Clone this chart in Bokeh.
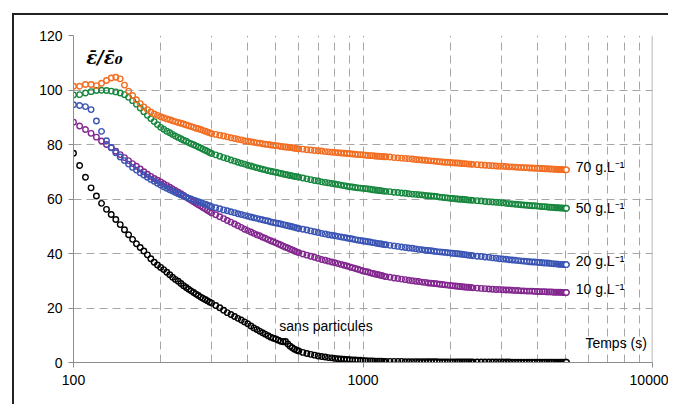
from bokeh.plotting import figure
from bokeh.layouts import column
from bokeh.models import FixedTicker, Label, Span, NumeralTickFormatter
from bokeh.embed import file_html
from bokeh.resources import INLINE

# sampling times (s)
times = (list(range(100, 301, 5)) + list(range(310, 601, 10)) + list(range(620, 1201, 20))
         + list(range(1240, 2401, 40)) + list(range(2480, 5041, 80)))

sans_particules = [
    76.8, 72.3, 68.0, 64.1, 61.1, 58.4, 56.2, 54.3, 52.5, 50.6,
    48.7, 46.9, 45.2, 43.6, 42.2, 40.9, 39.5, 38.1, 36.8, 35.8,
    34.9, 34.1, 33.1, 32.2, 31.3, 30.5, 29.8, 29.0, 28.2, 27.5,
    26.9, 26.3, 25.7, 25.1, 24.6, 24.0, 23.6, 23.1, 22.7, 22.2,
    21.8,
    20.9, 20.1, 19.2, 18.3, 17.6, 16.9, 16.2, 15.6, 14.9, 14.2,
    13.4, 12.7, 12.1, 11.5, 10.9, 10.4, 9.8, 9.3, 8.9, 8.6,
    8.2, 7.8, 7.6, 7.7, 6.8, 6.0, 5.4, 4.9, 4.5, 4.2,
    3.7, 3.3, 3.0, 2.7, 2.4, 2.2, 2.0, 1.8, 1.7, 1.5,
    1.4, 1.3, 1.2, 1.1, 1.0, 0.9, 0.9, 0.8, 0.8, 0.7,
    0.7, 0.6, 0.6, 0.6, 0.5, 0.5, 0.5, 0.5, 0.4, 0.4,
    0.4, 0.4, 0.4, 0.4, 0.3, 0.3, 0.3, 0.3, 0.3, 0.3,
    0.3, 0.3, 0.3, 0.3, 0.3, 0.2, 0.2, 0.2, 0.2, 0.2,
    0.2, 0.2, 0.2, 0.2, 0.2, 0.2, 0.2, 0.2, 0.2, 0.2,
    0.2, 0.2, 0.2, 0.2, 0.2, 0.2, 0.2, 0.2, 0.2, 0.2,
    0.1, 0.1, 0.1, 0.1, 0.1, 0.1, 0.1, 0.1, 0.1, 0.1,
    0.1, 0.1, 0.1, 0.1, 0.1, 0.1, 0.1, 0.1, 0.1, 0.1,
    0.1, 0.1, 0.1,
]

g10 = [
    88.2, 86.8, 85.5, 84.1, 82.7, 81.3, 80.0, 78.8, 77.5, 76.3,
    75.2, 74.1, 73.0, 72.0, 71.0, 70.0, 69.1, 68.3, 67.5, 66.9,
    66.3, 65.6, 65.0, 64.3, 63.7, 63.1, 62.5, 61.9, 61.3, 60.7,
    60.1, 59.5, 59.0, 58.4, 57.9, 57.4, 56.9, 56.4, 55.9, 55.4,
    54.9,
    54.2, 53.5, 52.8, 52.1, 51.5, 50.8, 50.2, 49.6, 48.9, 48.4,
    47.9, 47.4, 46.9, 46.5, 46.0, 45.6, 45.1, 44.7, 44.3, 43.9,
    43.5, 43.1, 42.7, 42.3, 42.0, 41.6, 41.3, 40.9, 40.6, 40.3,
    39.8, 39.4, 39.0, 38.6, 38.2, 37.8, 37.5, 37.2, 36.9, 36.6,
    36.3, 36.0, 35.7, 35.4, 35.1, 34.8, 34.5, 34.2, 33.9, 33.6,
    33.4, 33.2, 32.9, 32.7, 32.5, 32.3, 32.1, 31.9, 31.7, 31.5,
    31.3, 31.0, 30.8, 30.6, 30.4, 30.2, 30.0, 29.8, 29.7, 29.5,
    29.4, 29.2, 29.1, 29.0, 28.9, 28.7, 28.6, 28.5, 28.4, 28.3,
    28.2, 28.1, 28.0, 27.9, 27.8, 27.7, 27.6, 27.6, 27.5, 27.4,
    27.3, 27.2, 27.1, 27.0, 26.9, 26.8, 26.8, 26.7, 26.6, 26.6,
    26.5, 26.4, 26.4, 26.3, 26.3, 26.2, 26.2, 26.2, 26.1, 26.1,
    26.0, 26.0, 26.0, 25.9, 25.9, 25.9, 25.8, 25.8, 25.8, 25.8,
    25.7, 25.7, 25.7,
]

g20 = [
    94.6, 94.3, 93.9, 92.8, 88.6, 84.8, 81.4, 78.9, 77.0, 75.4,
    74.1, 72.8, 71.6, 70.6, 69.6, 68.8, 68.0, 67.2, 66.5, 65.8,
    65.1, 64.5, 63.9, 63.4, 62.9, 62.4, 61.9, 61.5, 61.1, 60.7,
    60.3, 60.0, 59.6, 59.3, 59.0, 58.7, 58.4, 58.1, 57.8, 57.5,
    57.2,
    56.8, 56.4, 56.0, 55.7, 55.3, 55.0, 54.6, 54.3, 54.0, 53.7,
    53.4, 53.1, 52.9, 52.6, 52.4, 52.1, 51.9, 51.6, 51.4, 51.2,
    51.0, 50.8, 50.6, 50.4, 50.2, 50.0, 49.8, 49.6, 49.4, 49.2,
    48.9, 48.6, 48.3, 48.0, 47.7, 47.4, 47.2, 46.9, 46.7, 46.5,
    46.3, 46.1, 45.9, 45.7, 45.5, 45.3, 45.1, 44.9, 44.8, 44.6,
    44.5, 44.3, 44.2, 44.0, 43.9, 43.7, 43.6, 43.5, 43.3, 43.2,
    43.0, 42.8, 42.6, 42.4, 42.2, 42.0, 41.9, 41.7, 41.5, 41.4,
    41.2, 41.1, 41.0, 40.8, 40.7, 40.6, 40.5, 40.4, 40.3, 40.2,
    40.1, 40.0, 39.9, 39.8, 39.7, 39.6, 39.5, 39.4, 39.3, 39.2,
    39.0, 38.9, 38.7, 38.6, 38.4, 38.3, 38.1, 38.0, 37.9, 37.7,
    37.6, 37.5, 37.4, 37.3, 37.2, 37.1, 37.0, 36.9, 36.9, 36.8,
    36.7, 36.6, 36.5, 36.5, 36.4, 36.3, 36.2, 36.2, 36.1, 36.0,
    36.0, 35.9, 35.9,
]

g50 = [
    98.2, 98.3, 98.9, 99.4, 99.8, 99.9, 99.8, 99.6, 99.3, 98.9,
    98.3, 97.3, 96.1, 94.8, 93.4, 92.0, 90.7, 89.5, 88.4, 87.3,
    86.3, 85.6, 84.9, 84.3, 83.7, 83.1, 82.6, 82.1, 81.6, 81.2,
    80.7, 80.3, 79.9, 79.5, 79.1, 78.7, 78.3, 77.9, 77.5, 77.1,
    76.7,
    76.2, 75.7, 75.2, 74.8, 74.3, 73.9, 73.5, 73.1, 72.8, 72.4,
    72.1, 71.8, 71.5, 71.2, 70.9, 70.7, 70.4, 70.2, 70.0, 69.8,
    69.6, 69.4, 69.2, 69.0, 68.8, 68.6, 68.5, 68.3, 68.2, 68.0,
    67.7, 67.4, 67.1, 66.8, 66.6, 66.3, 66.1, 65.9, 65.7, 65.5,
    65.3, 65.1, 64.9, 64.7, 64.5, 64.4, 64.2, 64.1, 64.0, 63.9,
    63.8, 63.7, 63.6, 63.4, 63.3, 63.2, 63.1, 63.0, 62.9, 62.8,
    62.7, 62.5, 62.4, 62.2, 62.1, 61.9, 61.8, 61.7, 61.6, 61.5,
    61.3, 61.2, 61.1, 61.0, 60.9, 60.7, 60.6, 60.5, 60.4, 60.3,
    60.2, 60.1, 60.0, 59.9, 59.9, 59.8, 59.7, 59.6, 59.6, 59.5,
    59.4, 59.3, 59.1, 59.0, 58.9, 58.8, 58.7, 58.6, 58.4, 58.3,
    58.2, 58.1, 58.0, 57.9, 57.8, 57.7, 57.6, 57.5, 57.5, 57.4,
    57.3, 57.2, 57.2, 57.1, 57.0, 57.0, 56.9, 56.8, 56.8, 56.7,
    56.7, 56.6, 56.6,
]

g70 = [
    101.4, 101.4, 102.0, 102.0, 101.6, 102.5, 103.5, 104.4, 104.7, 104.1,
    101.8, 99.6, 98.0, 96.4, 95.0, 93.8, 92.8, 91.9, 91.2, 90.7,
    90.2, 89.8, 89.4, 89.1, 88.7, 88.4, 88.1, 87.8, 87.5, 87.2,
    86.9, 86.6, 86.3, 86.0, 85.8, 85.5, 85.2, 84.9, 84.6, 84.3,
    84.0,
    83.7, 83.4, 83.1, 82.8, 82.5, 82.2, 81.9, 81.7, 81.4, 81.2,
    81.0, 80.8, 80.6, 80.5, 80.3, 80.1, 80.0, 79.8, 79.7, 79.6,
    79.5, 79.3, 79.2, 79.1, 79.0, 78.9, 78.8, 78.6, 78.5, 78.4,
    78.3, 78.1, 78.0, 77.8, 77.7, 77.6, 77.4, 77.3, 77.2, 77.1,
    77.0, 76.9, 76.8, 76.7, 76.6, 76.5, 76.4, 76.3, 76.3, 76.2,
    76.1, 76.0, 75.9, 75.9, 75.8, 75.7, 75.7, 75.6, 75.5, 75.5,
    75.4, 75.2, 75.1, 75.0, 74.9, 74.8, 74.7, 74.5, 74.4, 74.3,
    74.2, 74.1, 74.0, 73.9, 73.8, 73.7, 73.6, 73.5, 73.5, 73.4,
    73.3, 73.2, 73.2, 73.1, 73.0, 73.0, 72.9, 72.8, 72.8, 72.7,
    72.6, 72.5, 72.4, 72.3, 72.2, 72.1, 72.0, 72.0, 71.9, 71.8,
    71.8, 71.7, 71.6, 71.6, 71.5, 71.5, 71.4, 71.4, 71.3, 71.3,
    71.2, 71.2, 71.1, 71.1, 71.0, 71.0, 70.9, 70.9, 70.8, 70.8,
    70.8, 70.7, 70.7,
]

series_labels = ["sans particules", "10 g.L⁻¹", "20 g.L⁻¹", "50 g.L⁻¹", "70 g.L⁻¹"]
series_colors = ["#000000", "#83288F", "#3B55B5", "#18873F", "#F26E22"]
series_values = [sans_particules, g10, g20, g50, g70]

x_ticks = [100, 1000, 10000]
x_minor = [200, 300, 400, 500, 600, 700, 800, 900,
           2000, 3000, 4000, 5000, 6000, 7000, 8000, 9000]
y_ticks = [0, 20, 40, 60, 80, 100, 120]
y_grid = [20, 40, 60, 80, 100]

p = figure(width=654, height=389, x_axis_type="log", x_range=(100, 10000), y_range=(0, 120),
           output_backend="svg", toolbar_location=None,
           min_border_left=59, min_border_right=16, min_border_top=20, min_border_bottom=42)
p.outline_line_color = None
p.background_fill_color = "white"
p.border_fill_color = "white"

p.xaxis.ticker = FixedTicker(ticks=x_ticks, minor_ticks=x_minor)
p.xaxis.formatter = NumeralTickFormatter(format="0")
p.yaxis.ticker = FixedTicker(ticks=y_ticks)
p.ygrid.ticker = FixedTicker(ticks=y_grid)

for ax in (p.xaxis[0], p.yaxis[0]):
    ax.axis_line_color = "#8c8c8c"
    ax.axis_line_width = 1
    ax.major_tick_line_color = "#8c8c8c"
    ax.major_tick_in = 0
    ax.major_tick_out = 5
    ax.minor_tick_line_color = None
    ax.major_label_text_font = "Liberation Sans"
    ax.major_label_text_font_size = "14px"
    ax.major_label_text_color = "#000000"
p.yaxis.major_label_standoff = 6
p.xaxis.major_label_standoff = 7

p.xgrid.grid_line_color = "#a6a6a6"
p.xgrid.grid_line_dash = "8 5"
p.xgrid.minor_grid_line_color = "#a6a6a6"
p.xgrid.minor_grid_line_dash = "8 5"
p.ygrid.grid_line_color = "#a6a6a6"
p.ygrid.grid_line_dash = "8 5"

p.add_layout(Span(location=10000, dimension="height", line_color="#a0a0a0", line_width=1.5))

for vals, col in zip(series_values, series_colors):
    n = min(len(times), len(vals))
    p.scatter(times[:n], vals[:n], marker="circle", size=5.5, fill_color=None,
              line_color=col, line_width=1.4)
    p.scatter(times[n - 1:n], vals[n - 1:n], marker="circle", size=5.5, fill_color="white",
              line_color=col, line_width=1.4)

label_pos = [(514, 13.5), (5430, 27.0), (5430, 37.1), (5430, 56.7), (5430, 71.6)]
for txt, (lx, ly) in zip(series_labels, label_pos):
    p.add_layout(Label(x=lx, y=ly, text=txt, text_font="Liberation Sans", text_font_size="14px",
                       text_color="#000000", text_baseline="middle", text_align="left"))

p.add_layout(Label(x=9560, y=7.2, text="Temps (s)", text_font="Liberation Sans",
                   text_font_size="14px", text_color="#000000", text_baseline="middle",
                   text_align="right"))
p.add_layout(Label(x=110.6, y=112, text="ε̄/ε̄₀", text_font="DejaVu Serif",
                   text_font_style="bold italic", text_font_size="18px", text_color="#000000",
                   text_baseline="middle", text_align="left"))

layout = column(p, margin=(13, 0, 0, 12),
                styles={"border-left": "2px solid #222222", "border-top": "2px solid #222222"})

open("out.html", "w").write(file_html(layout, INLINE))
